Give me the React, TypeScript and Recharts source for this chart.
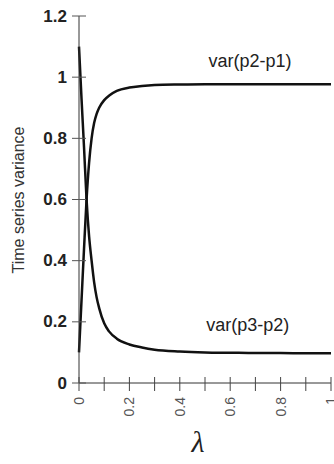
import React from 'react';
import { LineChart, Line, XAxis, YAxis, ReferenceDot } from 'recharts';

const lambdaValues = [0, 0.01, 0.02, 0.03, 0.04, 0.05, 0.06, 0.07, 0.08, 0.1, 0.12, 0.15, 0.2, 0.25, 0.3, 0.4, 0.5, 0.6, 0.7, 0.8, 0.9, 1.0];
const varP2P1 = [0.1, 0.27, 0.44, 0.6, 0.72, 0.8, 0.85, 0.88, 0.9, 0.925, 0.94, 0.955, 0.966, 0.971, 0.974, 0.976, 0.977, 0.977, 0.977, 0.977, 0.977, 0.977];
const varP3P2 = [1.1, 0.93, 0.77, 0.6, 0.48, 0.4, 0.33, 0.28, 0.245, 0.195, 0.168, 0.145, 0.126, 0.116, 0.109, 0.103, 0.1, 0.099, 0.098, 0.098, 0.097, 0.097];

const xTicks = [0, 0.1, 0.2, 0.3, 0.4, 0.5, 0.6, 0.7, 0.8, 0.9, 1];
const xTickLabels: Record<string, string> = { '0': '0', '0.2': '0.2', '0.4': '0.4', '0.6': '0.6', '0.8': '0.8', '1': '1' };
const yTicks = [0, 0.2, 0.4, 0.6, 0.8, 1, 1.2];
const yTickLabels = ['0', '0.2', '0.4', '0.6', '0.8', '1', '1.2'];

const seriesNames = ['var(p2-p1)', 'var(p3-p2)'];

const data = lambdaValues.map((l, i) => ({ lambda: l, a: varP2P1[i], b: varP3P2[i] }));

const SANS = '"Liberation Sans", Arial, sans-serif';

const YTick = (props: any) => {
  const { x, y, payload } = props;
  const idx = yTicks.indexOf(payload.value);
  return (
    <g>
      <line x1={x - 7} x2={x + 7} y1={y} y2={y} stroke="#555" strokeWidth={1} />
      <text x={x - 12} y={y} textAnchor="end" dominantBaseline="central" fontFamily={SANS} fontSize={17} fontWeight="bold" fill="#222">
        {idx >= 0 ? yTickLabels[idx] : ''}
      </text>
    </g>
  );
};

const XTick = (props: any) => {
  const { x, y, payload } = props;
  const key = String(Math.round(payload.value * 10) / 10);
  const label = xTickLabels[key];
  return (
    <g>
      <line x1={x} x2={x} y1={y - 6} y2={y + 8} stroke="#444" strokeWidth={1} />
      {label !== undefined && (
        <text x={x} y={y + 14} transform={`rotate(-90 ${x} ${y + 14})`} textAnchor="end" dominantBaseline="central" fontFamily={SANS} fontSize={14} fill="#555">
          {label}
        </text>
      )}
    </g>
  );
};

const YLabel = () => (
  <text x={18} y={200} transform="rotate(-90 18 200)" textAnchor="middle" dominantBaseline="central" fontFamily={SANS} fontSize={16} fill="#333">
    Time series variance
  </text>
);

const XLabel = () => (
  <text x={198} y={452} textAnchor="middle" fontFamily='"Liberation Serif", "Times New Roman", serif' fontStyle="italic" fontSize={30} fill="#222">
    λ
  </text>
);

export default function App() {
  return (
    <div style={{ position: 'absolute', left: 0, top: 0, background: '#fff' }}>
      <LineChart width={334} height={464} data={data} margin={{ top: 16, right: 3, left: 0, bottom: 0 }}>
        <XAxis
          dataKey="lambda"
          type="number"
          domain={[0, 1]}
          ticks={xTicks}
          height={81}
          tickSize={0}
          tickMargin={0}
          tickLine={false}
          axisLine={{ stroke: '#333', strokeWidth: 1 }}
          tick={<XTick />}
          interval={0}
          label={<XLabel />}
        />
        <YAxis
          type="number"
          domain={[0, 1.2]}
          ticks={yTicks}
          width={79}
          tickSize={0}
          tickMargin={0}
          tickLine={false}
          axisLine={{ stroke: '#333', strokeWidth: 1 }}
          tick={<YTick />}
          interval={0}
          label={<YLabel />}
        />
        <Line type="monotone" dataKey="a" name={seriesNames[0]} stroke="#111" strokeWidth={2.5} dot={false} isAnimationActive={false} />
        <Line type="monotone" dataKey="b" name={seriesNames[1]} stroke="#111" strokeWidth={2.5} dot={false} isAnimationActive={false} />
        <ReferenceDot x={0.679} y={1.053} r={0} stroke="none" fill="none" label={{ value: seriesNames[0], position: 'center', fontSize: 18, fill: '#222', fontFamily: SANS }} />
        <ReferenceDot x={0.67} y={0.19} r={0} stroke="none" fill="none" label={{ value: seriesNames[1], position: 'center', fontSize: 18, fill: '#222', fontFamily: SANS }} />
      </LineChart>
    </div>
  );
}
